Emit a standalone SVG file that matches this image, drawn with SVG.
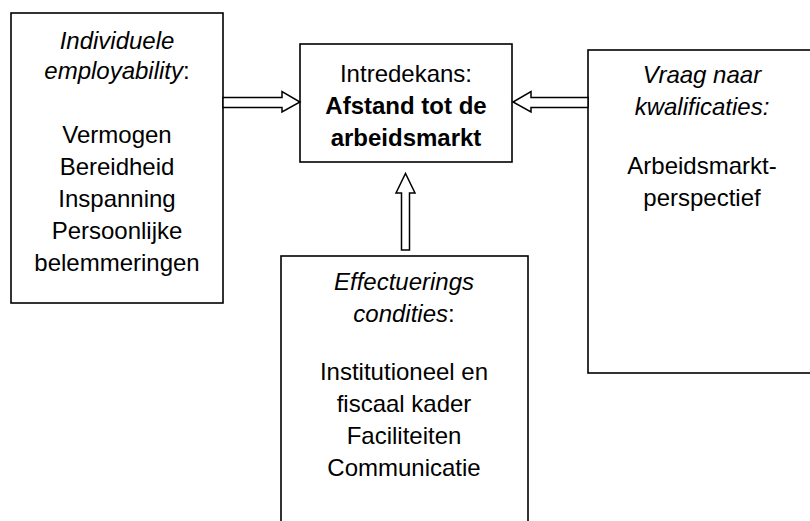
<svg xmlns="http://www.w3.org/2000/svg" width="810" height="521" viewBox="0 0 810 521">
<style>
.box{fill:#fff;stroke:#000;stroke-width:1.6}
.arr{fill:#fff;stroke:#000;stroke-width:1.5;stroke-linejoin:miter}
text{font-family:"Liberation Sans",Arial,sans-serif;font-size:24px;fill:#000;text-anchor:middle}
.i{font-style:italic}
.b{font-weight:bold}
</style>
<rect x="0" y="0" width="810" height="521" fill="#fff"/>
<g id="left">
<rect class="box" x="11" y="13" width="212" height="290"/>
<text x="117" y="49" class="i">Individuele</text>
<text x="117" y="79"><tspan class="i">employability</tspan>:</text>
<text x="117" y="143">Vermogen</text>
<text x="117" y="175">Bereidheid</text>
<text x="117" y="207">Inspanning</text>
<text x="117" y="239">Persoonlijke</text>
<text x="117" y="271">belemmeringen</text>
</g>
<g id="center">
<rect class="box" x="300" y="44" width="212" height="118"/>
<text x="406" y="82">Intredekans:</text>
<text x="406" y="114" class="b">Afstand tot de</text>
<text x="406" y="146" class="b">arbeidsmarkt</text>
</g>
<g id="right">
<rect class="box" x="588" y="50" width="230" height="323"/>
<text x="702" y="83" class="i">Vraag naar</text>
<text x="702" y="115" class="i">kwalificaties:</text>
<text x="702" y="174">Arbeidsmarkt-</text>
<text x="702" y="206">perspectief</text>
</g>
<g id="bottom">
<rect class="box" x="281" y="256" width="247" height="280"/>
<text x="404" y="290" class="i">Effectuerings</text>
<text x="404" y="322"><tspan class="i">condities</tspan>:</text>
<text x="404" y="380">Institutioneel en</text>
<text x="404" y="412">fiscaal kader</text>
<text x="404" y="444">Faciliteiten</text>
<text x="404" y="476">Communicatie</text>
</g>
<g id="connectors">
<polygon class="arr" points="223,97.5 282,97.5 282,91.5 300,102 282,112 282,107.5 223,107.5"/>
<polygon class="arr" points="588,97.5 531,97.5 531,91.5 513,102 531,112 531,107.5 588,107.5"/>
<polygon class="arr" points="401.5,250 401.5,193 396,193 405.5,173.5 415,193 409.5,193 409.5,250"/>
</g>
</svg>
